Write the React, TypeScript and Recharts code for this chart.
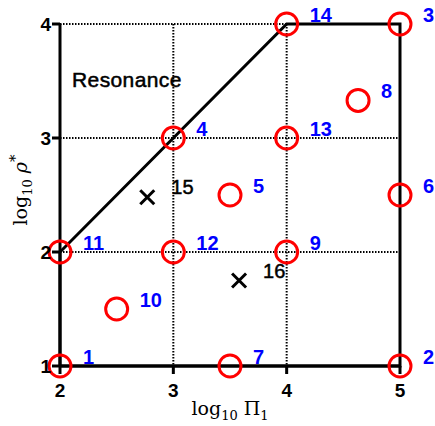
import React from 'react';
import { ScatterChart, Scatter, XAxis, YAxis, CartesianGrid } from 'recharts';

const pointIds = [1, 2, 3, 4, 5, 6, 7, 8, 9, 10, 11, 12, 13, 14];
const pointX = [2, 5, 5, 3, 3.5, 5, 3.5, 4.63, 4, 2.5, 2, 3, 4, 4];
const pointY = [1, 1, 4, 3, 2.5, 2.5, 1, 3.33, 2, 1.5, 2, 2, 3, 4];

const crossIds = [15, 16];
const crossX = [2.77, 3.58];
const crossY = [2.48, 1.75];

const boundaryX = [2, 2, 4, 5, 5, 2];
const boundaryY = [1, 2, 4, 4, 1, 1];

const xTicks = [2, 3, 4, 5];
const yTicks = [1, 2, 3, 4];

const points = pointIds.map((id, i) => ({ id, x: pointX[i], y: pointY[i] }));
const crosses = crossIds.map((id, i) => ({ id, x: crossX[i], y: crossY[i] }));
const boundary = boundaryX.map((x, i) => ({ x, y: boundaryY[i] }));

const SANS = 'Liberation Sans, Arial, sans-serif';
const SERIF = 'DejaVu Serif, serif';

const CircleShape = (p: any) => (
  <g>
    <circle cx={p.cx} cy={p.cy} r={11} fill="none" stroke="#ff0000" strokeWidth={3} />
    <text x={p.cx + 23} y={p.cy - 2} fill="#0000ff" fontFamily={SANS} fontWeight="bold" fontSize={20}>
      {p.payload.id}
    </text>
  </g>
);

const CrossShape = (p: any) => (
  <g>
    <line x1={p.cx - 7} y1={p.cy - 7} x2={p.cx + 7} y2={p.cy + 7} stroke="#000" strokeWidth={3} />
    <line x1={p.cx - 7} y1={p.cy + 7} x2={p.cx + 7} y2={p.cy - 7} stroke="#000" strokeWidth={3} />
    <text x={p.cx + 24} y={p.cy - 3} fill="#000" stroke="#000" strokeWidth={0.5} fontFamily={SANS} fontSize={20}>
      {p.payload.id}
    </text>
  </g>
);

const XLabel = (props: any) => {
  const vb = props.viewBox || { x: 60, y: 366, width: 340 };
  const cx = vb.x + vb.width / 2;
  return (
    <text x={cx} y={vb.y + 49} textAnchor="middle" fontFamily={SERIF} fontSize={19} fill="#000">
      log<tspan fontSize={13} dy={5}>10</tspan>
      <tspan dy={-5}> Π</tspan>
      <tspan fontSize={13} dy={5}>1</tspan>
    </text>
  );
};

const YLabel = () => (
  <text x={27} y={190} transform="rotate(-90, 27, 190)" textAnchor="middle" fontFamily={SERIF} fontSize={19} fill="#000">
    log<tspan fontSize={13} dy={5}>10</tspan>
    <tspan dy={-5} fontStyle="italic"> ρ</tspan>
    <tspan fontSize={15} dy={-7}>*</tspan>
  </text>
);

export default function App() {
  return (
    <div style={{ position: 'absolute', left: 0, top: 0, width: 435, height: 426, background: '#fff' }}>
      <ScatterChart width={435} height={426} margin={{ top: 24, right: 35, left: 0, bottom: 0 }}>
        <CartesianGrid stroke="#000" strokeWidth={2} strokeDasharray="1.5 1.5" />
        <XAxis
          type="number"
          dataKey="x"
          domain={[2, 5]}
          ticks={xTicks}
          interval={0}
          height={60}
          axisLine={{ stroke: '#000', strokeWidth: 3 }}
          tickLine={{ stroke: '#000', strokeWidth: 3 }}
          tickSize={8}
          tickMargin={10}
          tick={{ fill: '#000', fontFamily: SANS, fontWeight: 'bold', fontSize: 19 }}
          label={<XLabel />}
        />
        <YAxis
          type="number"
          dataKey="y"
          domain={[1, 4]}
          ticks={yTicks}
          interval={0}
          width={60}
          axisLine={{ stroke: '#000', strokeWidth: 3 }}
          tickLine={{ stroke: '#000', strokeWidth: 3 }}
          tickSize={8}
          tickMargin={1}
          tick={{ fill: '#000', fontFamily: SANS, fontWeight: 'bold', fontSize: 19 }}
          label={<YLabel />}
        />
        <Scatter
          data={boundary}
          line={{ stroke: '#000', strokeWidth: 3 }}
          shape={() => <g />}
          isAnimationActive={false}
        />
        <Scatter data={points} shape={CircleShape} isAnimationActive={false} />
        <Scatter data={crosses} shape={CrossShape} isAnimationActive={false} />
        <text x={72} y={87} fontFamily={SANS} fontSize={21} fill="#000" stroke="#000" strokeWidth={0.5} letterSpacing={0.4}>
          Resonance
        </text>
      </ScatterChart>
    </div>
  );
}
